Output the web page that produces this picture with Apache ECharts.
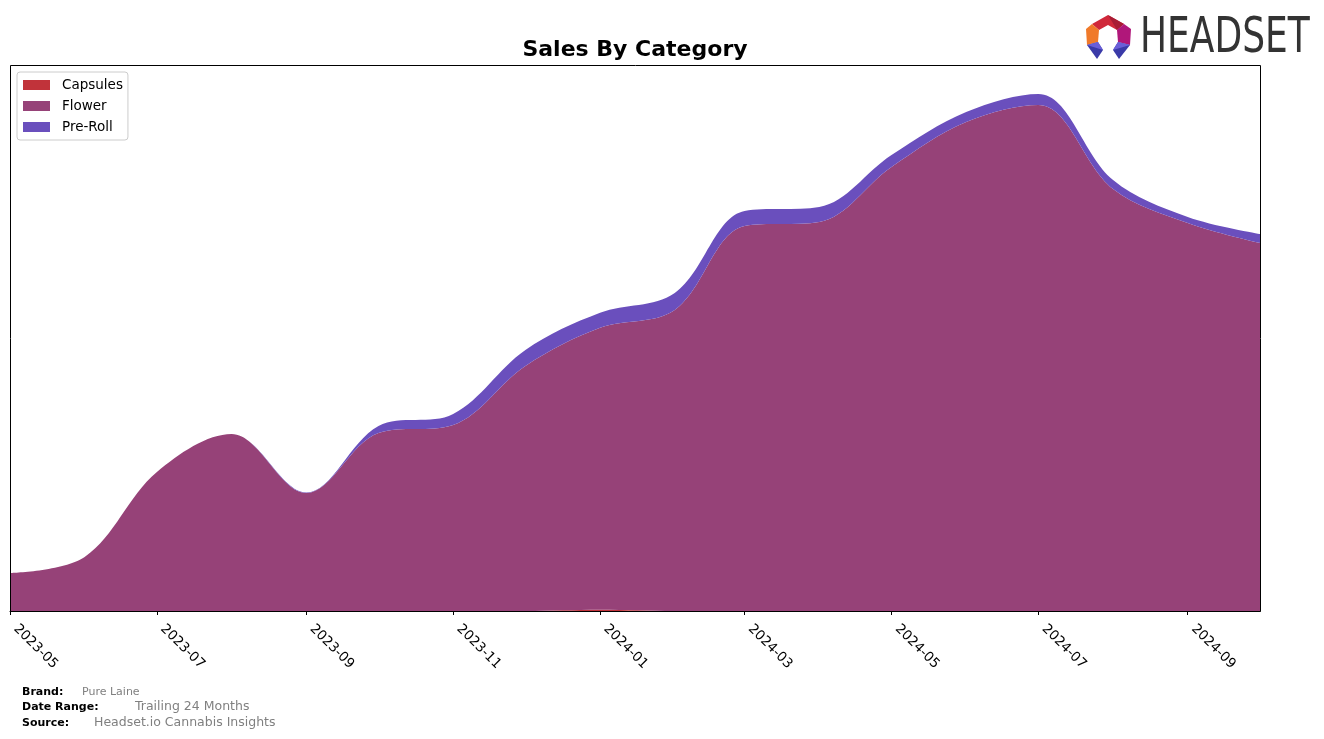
<!DOCTYPE html>
<html>
<head>
<meta charset="utf-8">
<script src="https://cdn.jsdelivr.net/npm/echarts@6/dist/echarts.min.js"></script>
<style>
html,body{margin:0;padding:0;background:#fff;}
#chart{width:1324px;height:739px;}
</style>
</head>
<body>
<div id="chart"></div>
<script>
// ---- data ----
const months = ['2023-05-01','2023-06-01','2023-07-01','2023-08-01','2023-09-01','2023-10-01',
  '2023-11-01','2023-12-01','2024-01-01','2024-02-01','2024-03-01','2024-04-01',
  '2024-05-01','2024-06-01','2024-07-01','2024-08-01','2024-09-01','2024-10-01'];
const capsules = [0,0,0,0,0,0,0,0,1.2,0,0,0,0,0,0,0,0,0];
const flower   = [38,54,139,177,118,178,186,245,282,301,385,389,444,489,506,422,388,368];
const preRoll  = [0,0,0,0,0.5,7,11,16,15,17,15,15,12,10,11,9,6,9];
const seriesNames = ['Capsules','Flower','Pre-Roll'];
const seriesColors = ['#c1333a','#964278','#6a4fbd'];
const yMax = 546;

const pairs = arr => months.map((m,i)=>[m, arr[i]]);
const allData = [capsules, flower, preRoll];

const chart = echarts.init(document.getElementById('chart'), null, {renderer:'canvas'});
const FONT = 'DejaVu Sans';
const DAY = 86400000;

const option = {
  animation: false,
  backgroundColor: '#ffffff',
  legend: {
    data: seriesNames,
    orient: 'vertical',
    left: 17, top: 72,
    padding: [6, 5, 6, 6],
    itemWidth: 27, itemHeight: 10, itemGap: 7,
    icon: 'rect',
    borderColor: '#cccccc', borderWidth: 1, borderRadius: 3,
    backgroundColor: 'rgba(255,255,255,0.85)',
    textStyle: {fontFamily: FONT, fontSize: 13.5, color: '#000', lineHeight: 14, padding: [0,0,0,7]}
  },
  grid: {left: 10, right: 64, top: 65, bottom: 128, show: false},
  xAxis: {
    type: 'time',
    min: months[0], max: months[months.length-1],
    minInterval: 61*DAY, maxInterval: 61*DAY,
    z: 10,
    axisLine: {show: true, lineStyle: {color: '#000', width: 1}},
    axisTick: {show: true, length: 4, lineStyle: {color: '#000'}},
    splitLine: {show: false},
    axisLabel: {
      rotate: -45, margin: 10, color: '#000', fontFamily: FONT, fontSize: 13.5,
      padding: [0, 0, 0, 8],
      showMaxLabel: false,
      formatter: function (v) {
        const d = new Date(v);
        const m = d.getMonth() + 1;
        if (m % 2 === 0) return '';
        return d.getFullYear() + '-' + String(m).padStart(2, '0');
      }
    }
  },
  yAxis: {
    type: 'value', min: 0, max: yMax,
    show: false, splitLine: {show: false}
  },
  series: seriesNames.map((name, i) => ({
    name: name,
    type: 'line',
    stack: 'total',
    smooth: 0.35,
    showSymbol: false,
    symbol: 'none',
    lineStyle: {width: 0},
    areaStyle: {color: seriesColors[i], opacity: 1},
    itemStyle: {color: seriesColors[i]},
    data: pairs(allData[i])
  })),
  graphic: [
    // title
    {type: 'text', x: 635, y: 50, z: 100,
     style: {text: 'Sales By Category', font: 'bold 22px "DejaVu Sans"', fill: '#000',
             textAlign: 'center', textVerticalAlign: 'middle'}},
    // axes frame (matplotlib spines)
    {type: 'rect', z: 100, silent: true,
     shape: {x: 10.5, y: 65.5, width: 1250, height: 546},
     style: {fill: null, stroke: '#000', lineWidth: 1}},
    // footer
    {type: 'text', left: 22, top: 687, style: {text: 'Brand:', font: 'bold 11px "DejaVu Sans"', fill: '#000'}},
    {type: 'text', left: 82, top: 687, style: {text: 'Pure Laine', font: '11px "DejaVu Sans"', fill: '#808080'}},
    {type: 'text', left: 22, top: 702, style: {text: 'Date Range:', font: 'bold 11px "DejaVu Sans"', fill: '#000'}},
    {type: 'text', left: 135, top: 700, style: {text: 'Trailing 24 Months', font: '12.5px "DejaVu Sans"', fill: '#808080'}},
    {type: 'text', left: 22, top: 718, style: {text: 'Source:', font: 'bold 11px "DejaVu Sans"', fill: '#000'}},
    {type: 'text', left: 94, top: 716, style: {text: 'Headset.io Cannabis Insights', font: '12.5px "DejaVu Sans"', fill: '#808080'}},
    // logo
    {type: 'group', left: 1086, top: 15, children: [
      {type: 'polygon', shape: {points: [[6,9],[22,0],[38,9],[31,15],[22,10],[13,15]]}, style: {fill: '#d0283a'}},
      {type: 'polygon', shape: {points: [[22,0],[38,9],[31,15]]}, style: {fill: '#a81c34'}},
      {type: 'polygon', shape: {points: [[6,9],[13,15],[12,27],[1,30],[0,14]]}, style: {fill: '#f07a2a'}},
      {type: 'polygon', shape: {points: [[38,9],[31,15],[32,27],[44,30],[45,14]]}, style: {fill: '#b0177a'}},
      {type: 'polygon', shape: {points: [[1,30],[12,27],[17,35],[11,44]]}, style: {fill: '#3a3aa8'}},
      {type: 'polygon', shape: {points: [[1,30],[12,27],[17,35]]}, style: {fill: '#6a5fd8'}},
      {type: 'polygon', shape: {points: [[44,30],[32,27],[27,35],[33,44]]}, style: {fill: '#3a3aa8'}},
      {type: 'polygon', shape: {points: [[44,30],[32,27],[27,35]]}, style: {fill: '#6a5fd8'}}
    ]},
    {type: 'text', left: 1140, top: 14, scaleX: 0.72,
     style: {text: 'HEADSET', font: '50px "DejaVu Sans"', fill: '#333333'}}
  ]
};
chart.setOption(option);
</script>
</body>
</html>
